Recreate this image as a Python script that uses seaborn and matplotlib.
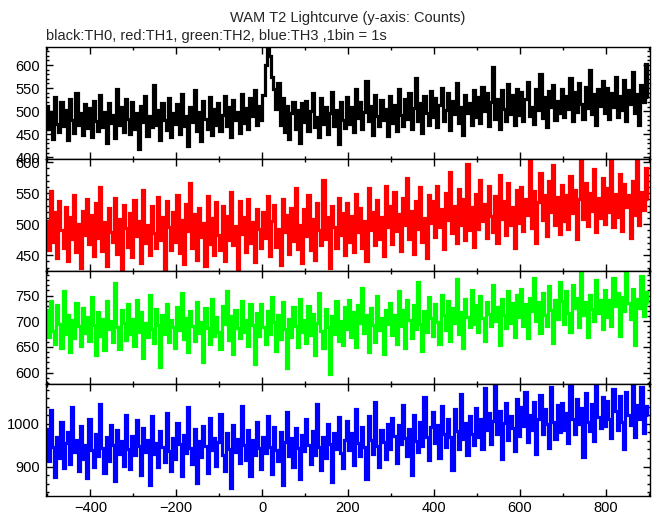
import numpy as np
import matplotlib
matplotlib.use('Agg')
import matplotlib.pyplot as plt
import seaborn as sns
from matplotlib.ticker import MultipleLocator

# ===================== data (counts per 5 s sample) =====================
time_s = np.arange(-502, 900, 5)

th0_black = [
    512, 461, 498, 440, 530, 472, 455, 519, 468, 503, 437, 526, 481, 452, 540, 470, 497, 449, 515, 463,
    506, 445, 522, 478, 458, 535, 466, 499, 430, 518, 474, 492, 441, 547, 469, 508, 455, 527, 482, 451,
    520, 462, 495, 418, 511, 476, 533, 447, 489, 465, 556, 471, 502, 438, 517, 480, 459, 528, 444, 496,
    473, 515, 450, 537, 468, 490, 425, 509, 477, 545, 458, 499, 436, 521, 483, 462, 531, 449, 504, 470,
    517, 456, 492, 532, 467, 510, 443, 524, 481, 498, 452, 538, 475, 506, 461, 529, 489, 545, 470, 512,
    480, 535, 600, 662, 620, 575, 548, 505, 560, 470, 528, 455, 512, 440, 495, 520, 462, 503, 431, 517,
    476, 521, 458, 500, 539, 466, 487, 445, 528, 473, 510, 450, 495, 541, 468, 502, 428, 519, 481, 463,
    530, 472, 508, 455, 547, 486, 520, 462, 499, 565, 478, 511, 449, 536, 490, 468, 525, 481, 505, 446,
    532, 475, 514, 458, 549, 491, 468, 527, 483, 540, 461, 506, 572, 479, 518, 452, 533, 495, 470, 544,
    487, 528, 466, 513, 551, 478, 502, 539, 459, 521, 493, 560, 474, 509, 448, 535, 497, 518, 471, 546,
    488, 531, 474, 552, 501, 539, 468, 520, 595, 483, 527, 461, 546, 505, 479, 558, 493, 534, 470, 548,
    492, 541, 478, 527, 563, 489, 510, 472, 549, 503, 580, 486, 531, 465, 544, 509, 556, 481, 523, 496,
    547, 488, 532, 505, 571, 479, 541, 498, 562, 515, 484, 553, 506, 590, 493, 537, 470, 549, 512, 566,
    496, 551, 483, 540, 509, 575, 488, 533, 502, 568, 479, 545, 515, 584, 497, 538, 470, 556, 520, 603,
    530,
]

th1_red = [
    505, 458, 553, 472, 519, 446, 537, 490, 462, 528, 440, 511, 476, 548, 455, 500, 430, 522, 483, 541,
    468, 515, 449, 534, 478, 560, 457, 503, 433, 526, 488, 471, 542, 452, 509, 428, 531, 494, 464, 518,
    447, 539, 481, 506, 438, 555, 470, 498, 451, 529, 486, 462, 544, 475, 512, 426, 537, 495, 458, 520,
    472, 548, 453, 507, 436, 533, 489, 566, 461, 516, 443, 527, 479, 502, 432, 545, 468, 510, 450, 536,
    483, 458, 529, 441, 514, 475, 552, 466, 497, 427, 538, 484, 511, 455, 541, 470, 503, 439, 525, 492,
    461, 519, 478, 546, 449, 506, 531, 463, 492, 434, 540, 487, 515, 452, 527, 473, 558, 460, 498, 437,
    524, 481, 547, 458, 509, 443, 535, 490, 466, 571, 476, 512, 429, 530, 495, 462, 543, 483, 518, 450,
    534, 472, 513, 455, 549, 488, 527, 461, 505, 440, 558, 491, 520, 466, 539, 477, 512, 448, 561, 495,
    530, 468, 552, 489, 516, 457, 543, 499, 575, 476, 521, 452, 537, 493, 560, 471, 510, 445, 548, 502,
    538, 479, 562, 496, 525, 460, 551, 507, 584, 486, 530, 469, 557, 499, 541, 475, 598, 490, 528, 463,
    549, 492, 571, 505, 533, 478, 562, 514, 488, 545, 470, 580, 508, 537, 483, 566, 499, 528, 461, 555,
    502, 560, 489, 541, 515, 610, 494, 553, 470, 536, 582, 507, 548, 481, 569, 520, 596, 499, 544, 485,
    563, 505, 547, 492, 578, 518, 555, 476, 540, 610, 509, 566, 497, 551, 521, 589, 488, 542, 510, 574,
    501, 558, 520, 605, 496, 549, 512, 581, 489, 565, 528, 547, 478, 570, 515, 608, 499, 552, 523, 590,
    540,
]

th2_green = [
    722, 669, 740, 681, 655, 731, 694, 648, 758, 676, 712, 640, 703, 667, 735, 690, 652, 726, 678, 709,
    661, 748, 693, 634, 718, 672, 705, 645, 739, 684, 700, 659, 775, 688, 646, 721, 697, 663, 733, 676,
    705, 652, 741, 680, 718, 628, 696, 670, 751, 685, 658, 724, 693, 611, 712, 675, 734, 660, 702, 688,
    649, 728, 683, 755, 666, 707, 640, 719, 690, 662, 737, 677, 698, 621, 725, 686, 655, 743, 672, 709,
    680, 646, 729, 694, 759, 663, 711, 637, 722, 687, 668, 740, 679, 703, 651, 733, 692, 617, 716, 671,
    734, 689, 656, 720, 675, 748, 698, 643, 712, 666, 738, 684, 610, 705, 669, 727, 691, 650, 744, 680,
    702, 658, 730, 673, 715, 634, 697, 754, 681, 648, 723, 689, 598, 710, 676, 739, 662, 701, 653, 728,
    684, 742, 669, 718, 650, 731, 697, 765, 678, 712, 640, 726, 692, 659, 749, 683, 707, 636, 722, 695,
    736, 674, 713, 655, 758, 690, 722, 649, 741, 703, 668, 731, 685, 776, 695, 642, 719, 680, 747, 706,
    672, 734, 698, 655, 752, 712, 683, 739, 661, 725, 697, 783, 676, 718, 648, 744, 709, 688, 760, 694,
    731, 680, 749, 706, 662, 738, 715, 690, 771, 701, 727, 654, 744, 712, 686, 758, 697, 735, 670, 752,
    708, 762, 691, 733, 668, 746, 719, 785, 700, 738, 677, 754, 712, 690, 769, 722, 658, 741, 705, 776,
    739, 694, 758, 717, 680, 771, 726, 745, 688, 793, 712, 737, 669, 752, 723, 701, 780, 716, 742, 685,
    760, 709, 741, 690, 784, 730, 755, 672, 748, 719, 796, 735, 704, 762, 654, 743, 726, 788, 711, 757,
    735,
]

th3_blue = [
    987, 912, 1032, 946, 875, 968, 921, 1003, 896, 955, 981, 907, 1040, 933, 962, 889, 994, 918, 950, 873,
    1012, 938, 899, 976, 925, 1045, 944, 884, 969, 913, 998, 951, 867, 985, 930, 959, 902, 1021, 941, 894,
    971, 926, 1008, 947, 881, 990, 935, 962, 856, 1017, 929, 954, 898, 983, 945, 910, 1026, 937, 889, 966,
    917, 1001, 952, 878, 974, 931, 1038, 943, 905, 988, 862, 960, 922, 995, 948, 884, 1014, 939, 967, 901,
    958, 1023, 927, 890, 979, 942, 851, 996, 934, 965, 908, 1042, 950, 915, 986, 877, 961, 928, 1005, 943,
    895, 970, 932, 1019, 946, 883, 992, 939, 913, 981, 858, 957, 1028, 924, 966, 900, 989, 944, 872, 973,
    936, 1010, 951, 906, 984, 928, 1047, 945, 891, 968, 921, 999, 953, 864, 979, 940, 1016, 931, 897, 962,
    1007, 938, 979, 903, 1034, 956, 925, 992, 945, 871, 1018, 963, 930, 1051, 948, 899, 985, 957, 918, 1000,
    941, 1013, 972, 908, 997, 953, 1044, 966, 924, 988, 880, 1021, 959, 935, 1003, 949, 1062, 970, 915, 993,
    1027, 955, 998, 921, 1041, 977, 946, 1010, 969, 893, 1035, 982, 940, 1069, 964, 1001, 928, 1019, 975, 950,
    1036, 968, 1012, 941, 1083, 985, 1024, 952, 1007, 1093, 975, 1030, 918, 1002, 1048, 963, 1017, 991, 937, 1059,
    972, 1039, 994, 1075, 958, 1021, 985, 1052, 930, 1010, 1068, 977, 1034, 999, 944, 1086, 1003, 965, 1044, 981,
    1049, 986, 1025, 954, 1090, 1011, 975, 1058, 999, 1037, 922, 1071, 1004, 983, 1046, 960, 1098, 1016, 989, 1062,
    995, 1053, 1012, 966, 1081, 1029, 985, 1066, 1003, 940, 1074, 1021, 998, 1095, 970, 1044, 1010, 1087, 978, 1041,
    1020,
]

series = [th0_black, th1_red, th2_green, th3_blue]
colors = ['#000000', '#ff0000', '#00ff00', '#0000ff']
ylims = [(396, 639), (424, 605), (579, 797), (832, 1094)]
y_major = [50, 50, 50, 100]
y_minor = [10, 10, 10, 20]

title = 'WAM T2 Lightcurve (y-axis: Counts)'
subtitle = 'black:TH0, red:TH1, green:TH2, blue:TH3 ,1bin = 1s'

# ===================== plotting =====================
sns.set_style('ticks')
plt.rcParams['font.family'] = ['Liberation Sans', 'DejaVu Sans']

fig, axes = plt.subplots(4, 1, figsize=(6.52, 5.15), dpi=100, sharex=True)
fig.subplots_adjust(left=0.070, right=0.997, top=0.9087, bottom=0.0375, hspace=0)

for ax, vals, col, yl, ymaj, ymin in zip(axes, series, colors, ylims, y_major, y_minor):
    # binned lightcurve as steps; stroke wider than one bin so the band reads solid
    sns.lineplot(x=time_s, y=vals, ax=ax, color=col, linewidth=2.3,
                 estimator=None, sort=False, drawstyle='steps-mid',
                 solid_joinstyle='miter', solid_capstyle='butt')
    ax.set_xlim(-504, 903)
    ax.set_ylim(*yl)
    ax.xaxis.set_major_locator(MultipleLocator(200))
    ax.xaxis.set_minor_locator(MultipleLocator(100))
    ax.yaxis.set_major_locator(MultipleLocator(ymaj))
    ax.yaxis.set_minor_locator(MultipleLocator(ymin))
    ax.tick_params(which='both', direction='in', top=True, right=True,
                   width=1.0, colors='black', labelsize=10.5, pad=4)
    ax.tick_params(which='major', length=5)
    ax.tick_params(which='minor', length=2.5)
    for sp in ax.spines.values():
        sp.set_linewidth(1.0)
        sp.set_color('black')
        sp.set_zorder(3)
    ax.set_xlabel('')
    ax.set_ylabel('')

for ax in axes[:-1]:
    ax.tick_params(labelbottom=False)

fig.text(0.534, 0.965, title, ha='center', va='center', fontsize=10.5)
fig.text(0.070, 0.930, subtitle, ha='left', va='center', fontsize=10.5)

fig.savefig('out.png', dpi=100)
